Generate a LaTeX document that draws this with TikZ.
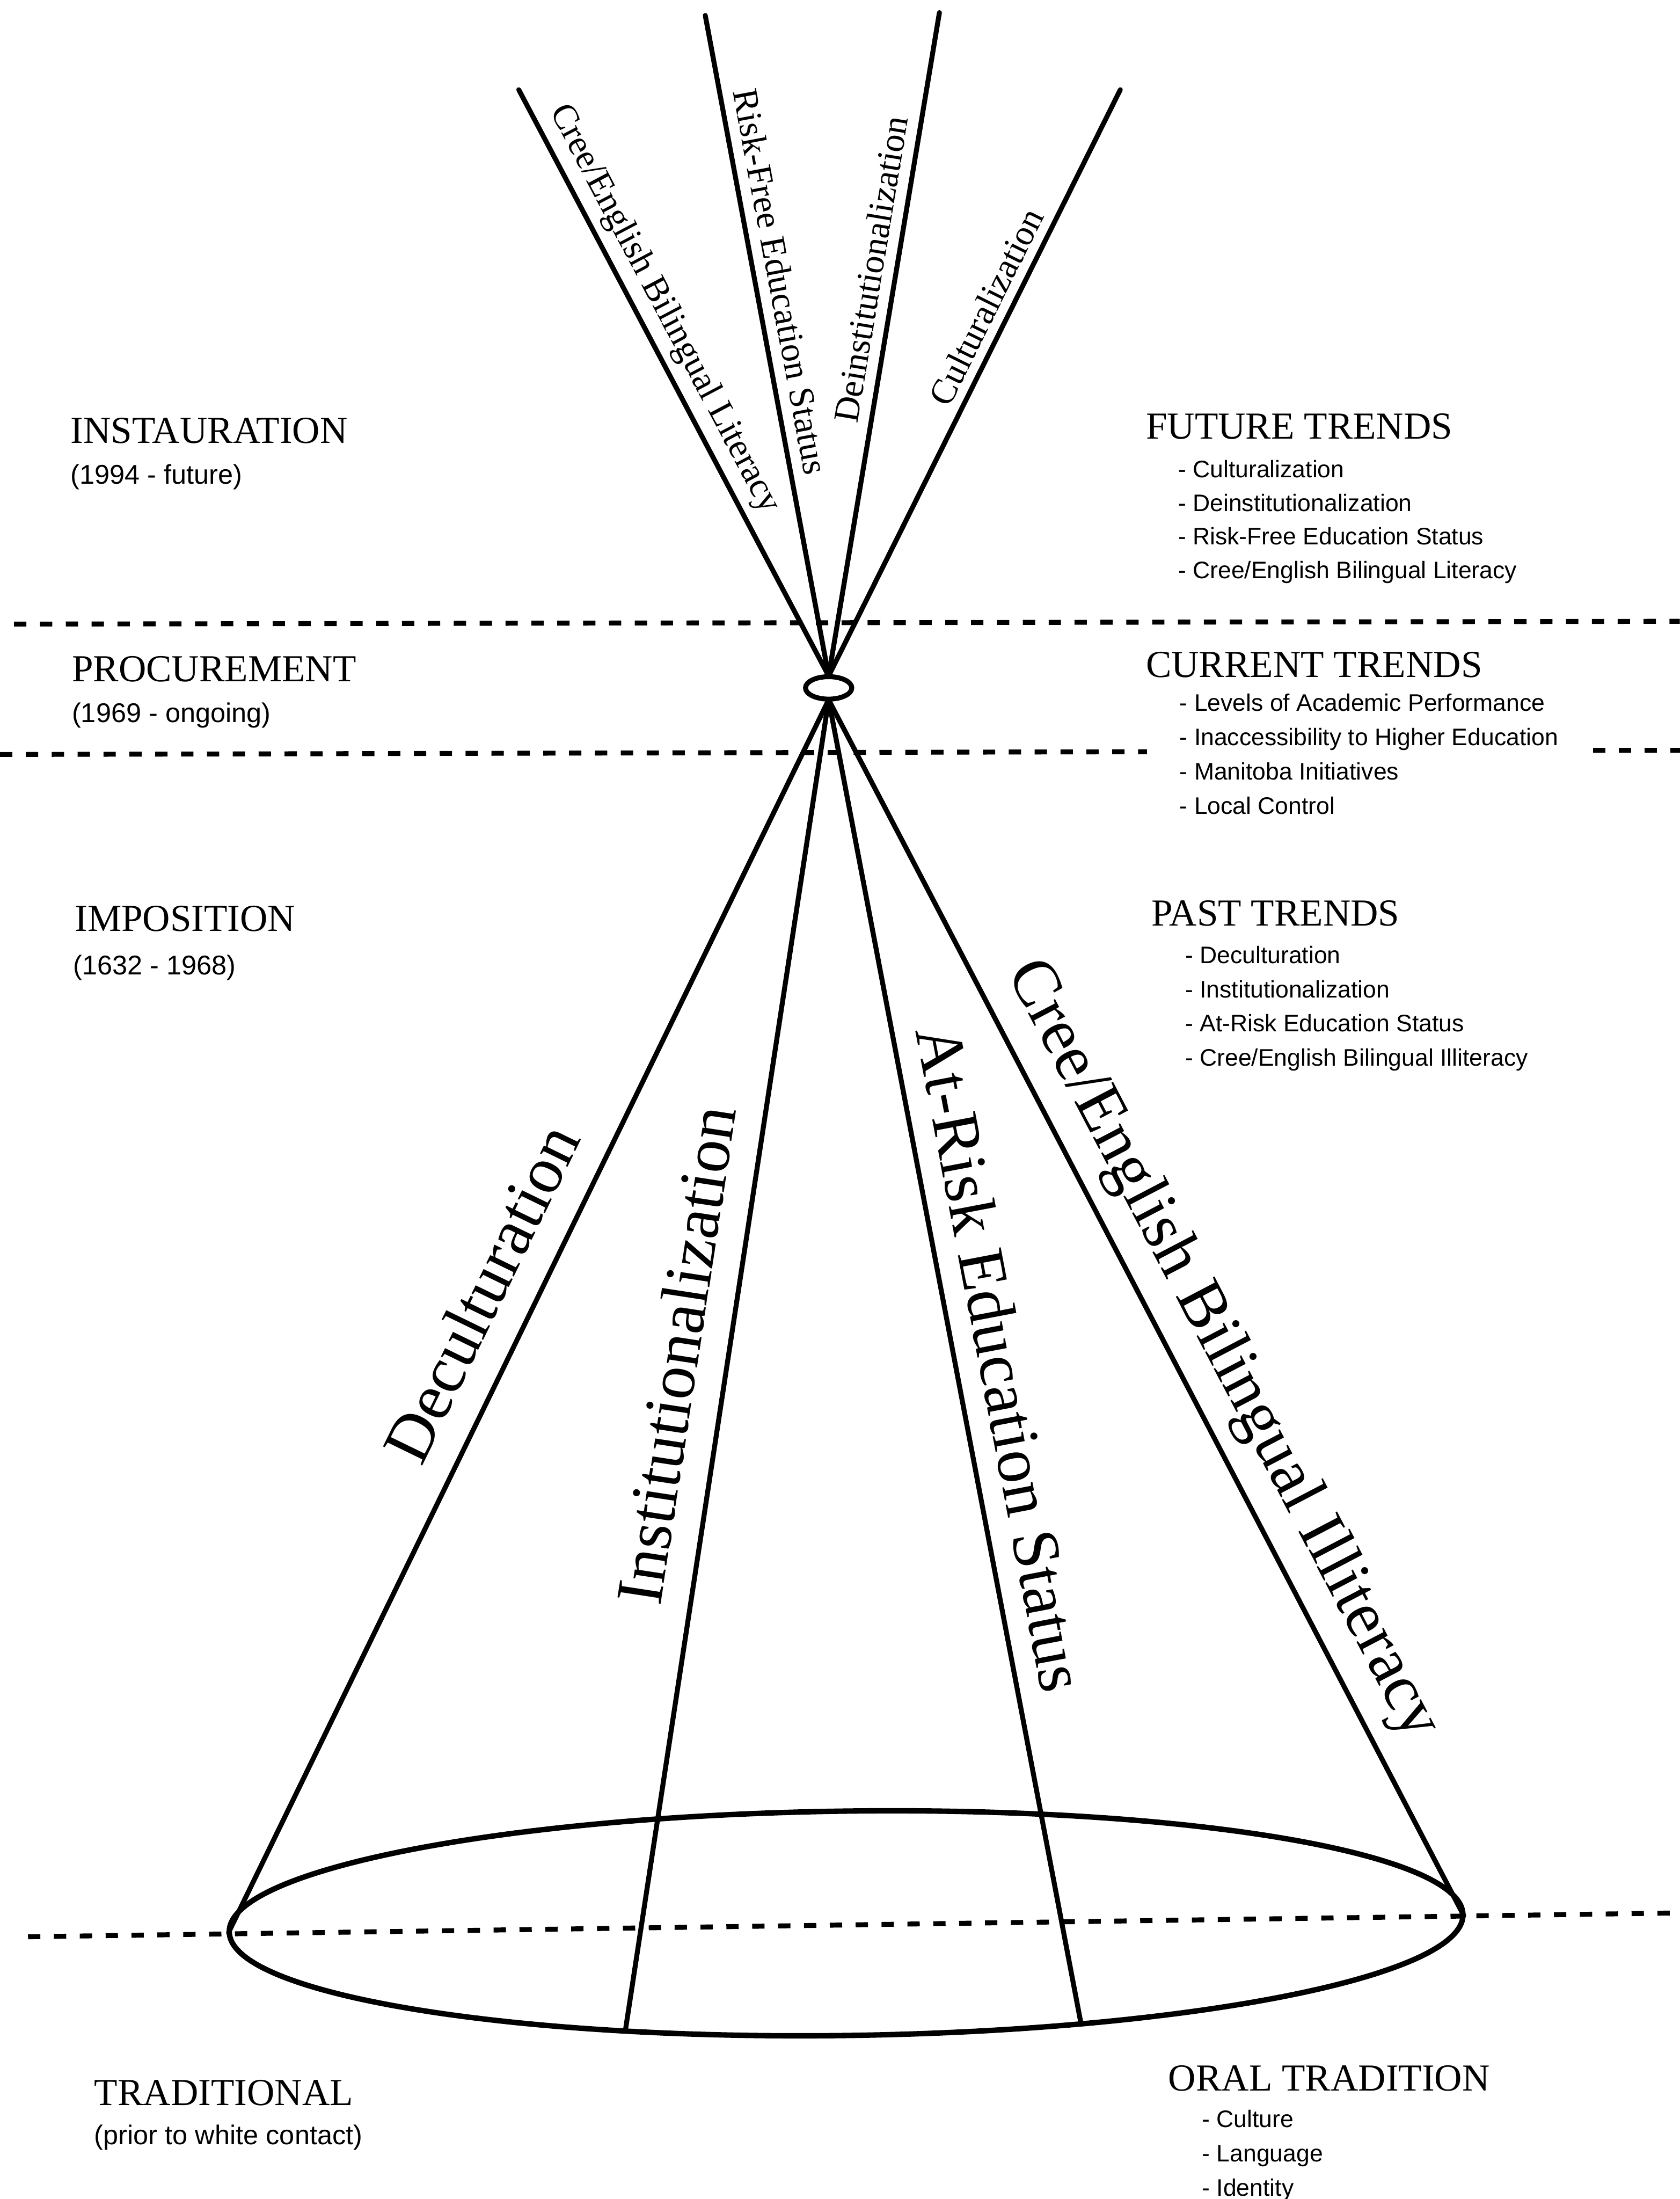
\documentclass[tikz,border=0pt]{standalone}
\usepackage{fontspec}
\setmainfont{Liberation Serif}
\setsansfont{Liberation Sans}

\begin{document}
\begin{tikzpicture}[x=0.02cm, y=-0.02cm,
  cone/.style={line width=2pt, line cap=round},
  sepline/.style={line width=2pt, dash pattern=on 5pt off 5.5pt},
  phase/.style={anchor=base west, inner sep=0pt, font=\fontsize{15.5}{18}\selectfont},
  span/.style={anchor=base west, inner sep=0pt, font=\sffamily\fontsize{11}{13}\selectfont},
  item/.style={anchor=base west, inner sep=0pt, font=\sffamily\fontsize{9.7}{12}\selectfont},
  smalltag/.style={sloped, anchor=south, inner xsep=0pt, font=\fontsize{14.5}{17}\selectfont},
  bigtag/.style={sloped, anchor=south, inner xsep=0pt, font=\fontsize{27}{30}\selectfont}]

\useasboundingbox (0,0) rectangle (1198,1568);

% Zeitgrenzen (gestrichelt)
\draw[sepline] (10,445) -- (1198,443);
\draw[sepline] (0,538) -- (818,536);
\draw[sepline] (1136,535) -- (1198,535);
\draw[sepline] (20,1381) -- (1198,1364);

% Spitze und Basis des Kegels
\coordinate (apexT) at (591,482);
\coordinate (apexB) at (591,499);
\coordinate (base)  at (603.5,1371.5);
\draw[line width=2pt] (591,490.5) ellipse [x radius=16.5, y radius=8];
\draw[line width=2.2pt, rotate around={0.8:(base)}] (base) ellipse [x radius=440, y radius=80];

% obere Linien: Zukunft
\coordinate (f1) at (370,64);
\coordinate (f2) at (503,11);
\coordinate (f3) at (670,9);
\coordinate (f4) at (799,64);
\draw[cone] (f1) -- (apexT) node[smalltag, pos=0.395, inner ysep=2.9pt] {Cree/English Bilingual Literacy};
\draw[cone] (f2) -- (apexT) node[smalltag, pos=0.41, inner ysep=4.2pt] {Risk-Free Education Status};
\draw[cone] (apexT) -- (f3) node[smalltag, pos=0.607, inner ysep=4.2pt] {Deinstitutionalization};
\draw[cone] (apexT) -- (f4) node[smalltag, pos=0.612, inner ysep=3.5pt] {Culturalization};

% untere Linien: Vergangenheit
\coordinate (p1) at (163,1378);
\coordinate (p2) at (446,1448);
\coordinate (p3) at (771,1443);
\coordinate (p4) at (1044,1366);
\draw[cone] (p1) -- (apexB) node[bigtag, pos=0.5, inner ysep=11pt] {Deculturation};
\draw[cone] (p2) -- (apexB) node[bigtag, pos=0.502, inner ysep=10.6pt] {Institutionalization};
\draw[cone] (apexB) -- (p3) node[bigtag, pos=0.504, inner ysep=8.2pt] {At-Risk Education Status};
\draw[cone] (apexB) -- (p4) node[bigtag, pos=0.553, inner ysep=6pt] {Cree/English Bilingual Illiteracy};

% Phasen links
\node[phase] (instau)     at (50,316)  {INSTAURATION};
\node[span]  (instauyr)   at (50,345)  {(1994 - future)};
\node[phase] (procur)     at (51,486)  {PROCUREMENT};
\node[span]  (procuryr)   at (51,515)  {(1969 - ongoing)};
\node[phase] (impos)      at (53,664)  {IMPOSITION};
\node[span]  (imposyr)    at (52,695)  {(1632 - 1968)};
\node[phase] (tradit)     at (67,1501) {TRADITIONAL};
\node[span]  (traditnote) at (67,1529) {(prior to white contact)};

% Trends rechts
\node[phase] (future) at (817,313) {FUTURE TRENDS};
\foreach \t [count=\i] in {Culturalization, Deinstitutionalization, Risk-Free Education Status, Cree/English Bilingual Literacy}
  \node[item] (future\i) at (840,316.5+24*\i) {- \t};

\node[phase] (current) at (817,483) {CURRENT TRENDS};
\foreach \t [count=\i] in {Levels of Academic Performance, Inaccessibility to Higher Education, Manitoba Initiatives, Local Control}
  \node[item] (current\i) at (841,482.5+24.5*\i) {- \t};

\node[phase] (past) at (821,660) {PAST TRENDS};
\foreach \t [count=\i] in {Deculturation, Institutionalization, At-Risk Education Status, Cree/English Bilingual Illiteracy}
  \node[item] (past\i) at (845,662.7+24.3*\i) {- \t};

\node[phase] (oral) at (833,1491) {ORAL TRADITION};
\foreach \t [count=\i] in {Culture, Language, Identity}
  \node[item] (oral\i) at (857,1492.5+24.5*\i) {- \t};

\end{tikzpicture}
\end{document}
